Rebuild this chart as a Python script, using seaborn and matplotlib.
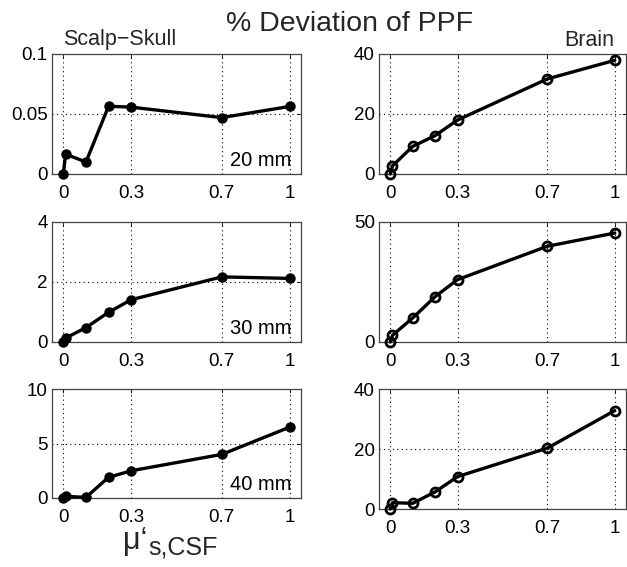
import matplotlib
matplotlib.use("Agg")
import matplotlib.pyplot as plt
import seaborn as sns
import pandas as pd

# ---------------- data ----------------
mu_s_csf = [0, 0.01, 0.1, 0.2, 0.3, 0.7, 1.0]

scalp_20 = [0.0, 0.0165, 0.0100, 0.0565, 0.0557, 0.0470, 0.0563]
brain_20 = [0.0, 2.7, 9.2, 12.8, 18.0, 31.7, 37.9]
scalp_30 = [0.0, 0.13, 0.48, 0.99, 1.41, 2.17, 2.12]
brain_30 = [0.0, 2.8, 10.0, 18.9, 26.0, 39.9, 45.4]
scalp_40 = [0.0, 0.15, 0.06, 1.9, 2.5, 4.0, 6.5]
brain_40 = [0.0, 2.1, 1.9, 5.7, 10.8, 20.3, 32.8]

depth_labels = ["20 mm", "30 mm", "40 mm"]
xtick_vals = [0, 0.3, 0.7, 1]
xtick_labels = ["0", "0.3", "0.7", "1"]
scalp_yticks = [[0, 0.05, 0.1], [0, 2, 4], [0, 5, 10]]
scalp_yticklabels = [["0", "0.05", "0.1"], ["0", "2", "4"], ["0", "5", "10"]]
brain_yticks = [[0, 20, 40], [0, 50], [0, 20, 40]]
brain_yticklabels = [["0", "20", "40"], ["0", "50"], ["0", "20", "40"]]

title = "% Deviation of PPF"
left_title = "Scalp\u2212Skull"
right_title = "Brain"

# ---------------- style ----------------
sns.set_style("white")
plt.rcParams["font.family"] = ["Liberation Sans", "DejaVu Sans"]

W, H = 627, 567
fig = plt.figure(figsize=(W / 100, H / 100), dpi=100)


def box(x0, y0, x1, y1):
    return [x0 / W, 1 - y1 / H, (x1 - x0) / W, (y1 - y0) / H]


left_boxes = [box(52, 54, 301, 174), box(52, 222, 301, 342), box(52, 389, 301, 498)]
right_boxes = [box(379, 54, 626, 174), box(379, 222, 626, 342), box(379, 389, 626, 509)]

scalp = [scalp_20, scalp_30, scalp_40]
brain = [brain_20, brain_30, brain_40]


def style_axes(ax, yticks, yticklabels):
    ax.set_xlim(-0.05, 1.05)
    ax.set_ylim(yticks[0], yticks[-1])
    ax.set_xticks(xtick_vals)
    ax.set_xticklabels(xtick_labels)
    ax.set_yticks(yticks)
    ax.set_yticklabels(yticklabels)
    ax.grid(True, linestyle=(0, (1, 3)), color="k", linewidth=0.8)
    ax.tick_params(direction="in", length=3, width=0.6, labelsize=13.5,
                   top=True, right=True, colors="k")
    ax.tick_params(axis="x", pad=8)
    ax.tick_params(axis="y", pad=3)
    for s in ax.spines.values():
        s.set_color("#444444")
        s.set_linewidth(0.9)
    ax.set_xlabel("")
    ax.set_ylabel("")
    for lab in ax.get_xticklabels() + ax.get_yticklabels():
        lab.set_color("k")


for i in range(3):
    axl = fig.add_axes(left_boxes[i])
    df = pd.DataFrame({"mu": mu_s_csf, "dev": scalp[i]})
    sns.lineplot(data=df, x="mu", y="dev", ax=axl, color="k", linewidth=2.4,
                 marker="o", markersize=6.5, markerfacecolor="k",
                 markeredgecolor="k", markeredgewidth=1, clip_on=False, zorder=5)
    style_axes(axl, scalp_yticks[i], scalp_yticklabels[i])
    axl.text(0.96, 0.035, depth_labels[i], transform=axl.transAxes,
             ha="right", va="bottom", fontsize=14.5, color="k")

    axr = fig.add_axes(right_boxes[i])
    df = pd.DataFrame({"mu": mu_s_csf, "dev": brain[i]})
    sns.lineplot(data=df, x="mu", y="dev", ax=axr, color="k", linewidth=2.4,
                 marker="o", markersize=6.5, markerfacecolor="none",
                 markeredgecolor="k", markeredgewidth=2, clip_on=False, zorder=5)
    style_axes(axr, brain_yticks[i], brain_yticklabels[i])

fig.text(350 / W, 1 - 24 / H, title, ha="center", va="center", fontsize=20.5)
fig.text(120 / W, 1 - 39 / H, left_title, ha="center", va="center", fontsize=15.5)
fig.text(614 / W, 1 - 40 / H, right_title, ha="right", va="center", fontsize=15.5)

# x label: mu'_{s,CSF}
fig.text(147 / W, 1 - 541 / H, "\u03bc\u2018", ha="right", va="center", fontsize=22)
fig.text(148 / W, 1 - 547 / H, "s,CSF", ha="left", va="center", fontsize=18)

fig.savefig("out.png", dpi=100)
